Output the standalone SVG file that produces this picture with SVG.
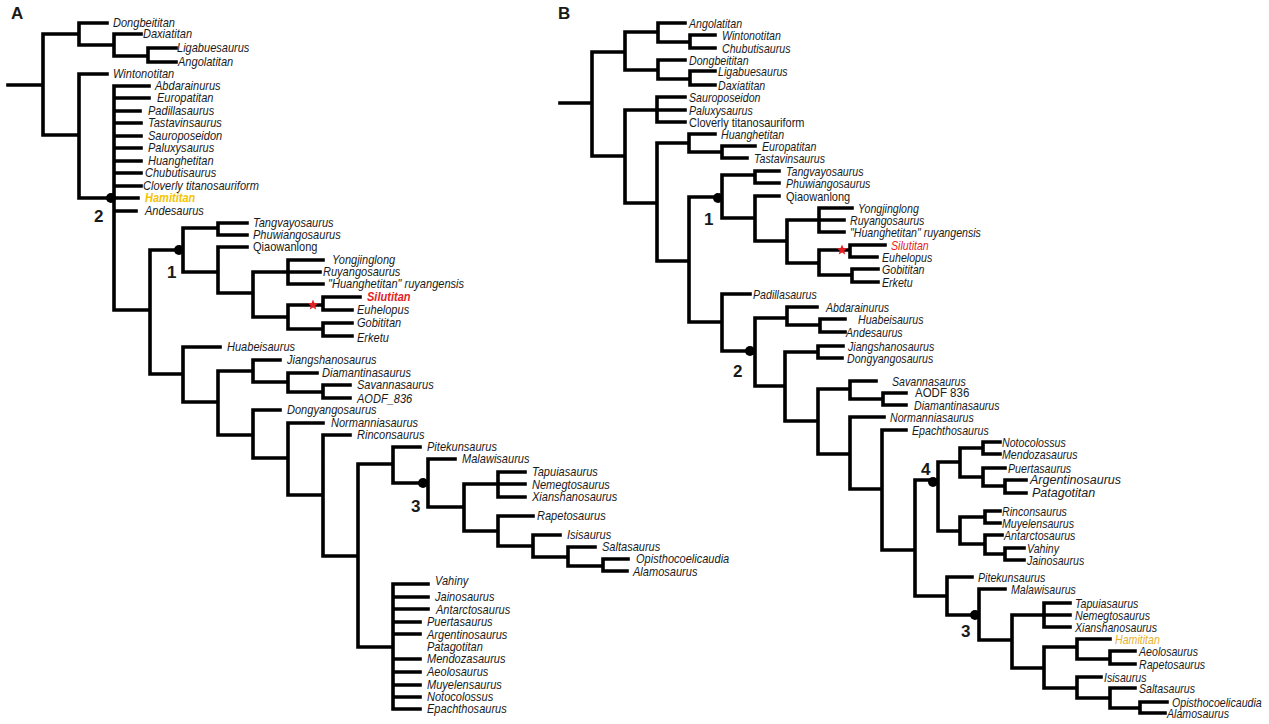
<svg xmlns="http://www.w3.org/2000/svg" xmlns:xlink="http://www.w3.org/1999/xlink" width="1269" height="724" viewBox="0 0 1269 724">
<style>
.e{fill:none;stroke:#000;stroke-width:3.6;stroke-linecap:square;stroke-linejoin:miter}
.t{font-family:"Liberation Sans",Arial,sans-serif;font-size:13px;font-style:italic;fill:#1a1a1a;dominant-baseline:central}
.b{font-size:12.5px}
.u{font-style:normal}
.n{font-family:"Liberation Sans",Arial,sans-serif;font-weight:bold;font-size:17px;fill:#1a1a1a}
.red{fill:#e31e24}
.yA{fill:#f5c400;font-weight:bold}
.yB{fill:#e8b030}
.dot{fill:#000}
</style>
<defs>
<polygon id="star" points="0,-5.5 1.4,-2 5.2,-1.7 2.3,0.75 3.2,4.4 0,2.4 -3.2,4.4 -2.3,0.75 -5.2,-1.7 -1.4,-2"/>
</defs>
<rect width="1269" height="724" fill="#fff"/>
<text class="n" x="11" y="19">A</text>
<text class="n" x="558" y="19">B</text>

<g id="connectors-A">
<path class="e" d="M8 85H43M43 34V135M43 34H79M43 135H79M79 23V45M79 23H107M79 45H114M114 34V56M114 34H141M114 56H148M148 48V62M148 48H176M148 62H176
M79 74V198M79 74H107M79 198H114M114 86V310
M114 86H149M114 98H149M114 111H140M114 123H141M114 136H141M114 148H141M114 161H141M114 173H141M114 186H141M114 198H138M114 211H136
M114 310H150M150 250V374M150 250H183M150 374H183
M183 228V272M183 228H218M183 272H218
M218 223V235M218 223H247M218 235H247
M218 247V293M218 247H247M218 293H253
M253 272V317M253 272H288M253 317H288
M288 260V284M288 260H323M288 272H320M288 284H323
M288 305V329M288 305H323M288 329H323
M323 297V310M323 297H360M323 310H352
M323 323V336M323 323H352M323 336H352
M183 347V402M183 347H220M183 402H218
M218 371V435M218 371H253M218 435H253
M253 360V382M253 360H280M253 382H288
M288 373V392M288 373H317M288 392H323
M323 385V398M323 385H350M323 398H350
M253 410V458M253 410H280M253 458H288
M288 423V495M288 423H323M288 495H323
M323 435V556M323 435H350M323 556H358
M358 464V647M358 464H393M358 647H393
M393 447V483M393 447H420M393 483H428
M428 459V507M428 459H455M428 507H464
M464 484V531M464 484H498M464 531H498
M498 472V497M498 472H525M498 484H525M498 497H525
M498 516V546M498 516H533M498 546H533
M533 535V557M533 535H560M533 557H568
M568 547V566M568 547H595M568 566H603
M603 559V571M603 559H628M603 571H627
M393 584V709M393 584H428M393 597H428M393 609H428M393 622H420M393 634H420M393 659H420M393 672H420M393 685H420M393 697H420M393 709H420"/>
<circle class="dot" cx="111" cy="198" r="5"/>
<circle class="dot" cx="179" cy="250" r="5"/>
<circle class="dot" cx="423" cy="483" r="5"/>
<use xlink:href="#star" x="313" y="305" class="red"/>
</g>
<text class="n" x="94" y="222">2</text>
<text class="n" x="167" y="278">1</text>
<text class="n" x="411" y="512">3</text>

<g id="nodes-A">
<g id="A-Dongbeititan"><text class="t" transform="matrix(.85 0 0 1 113 23)">Dongbeititan</text></g>
<g id="A-Daxiatitan"><text class="t" transform="matrix(.85 0 0 1 143 34)">Daxiatitan</text></g>
<g id="A-Ligabuesaurus"><text class="t" transform="matrix(.85 0 0 1 177 48)">Ligabuesaurus</text></g>
<g id="A-Angolatitan"><text class="t" transform="matrix(.85 0 0 1 178 62)">Angolatitan</text></g>
<g id="A-Wintonotitan"><text class="t" transform="matrix(.85 0 0 1 113 74)">Wintonotitan</text></g>
<g id="A-Abdarainurus"><text class="t" transform="matrix(.85 0 0 1 155 86)">Abdarainurus</text></g>
<g id="A-Europatitan"><text class="t" transform="matrix(.85 0 0 1 157 98)">Europatitan</text></g>
<g id="A-Padillasaurus"><text class="t" transform="matrix(.85 0 0 1 148 111)">Padillasaurus</text></g>
<g id="A-Tastavinsaurus"><text class="t" transform="matrix(.85 0 0 1 148 123)">Tastavinsaurus</text></g>
<g id="A-Sauroposeidon"><text class="t" transform="matrix(.85 0 0 1 148 136)">Sauroposeidon</text></g>
<g id="A-Paluxysaurus"><text class="t" transform="matrix(.85 0 0 1 148 148)">Paluxysaurus</text></g>
<g id="A-Huanghetitan"><text class="t" transform="matrix(.85 0 0 1 148 161)">Huanghetitan</text></g>
<g id="A-Chubutisaurus"><text class="t" transform="matrix(.85 0 0 1 145 173)">Chubutisaurus</text></g>
<g id="A-Cloverly"><text class="t" transform="matrix(.85 0 0 1 143 186)">Cloverly titanosauriform</text></g>
<g id="A-Hamititan"><text class="t yA" transform="matrix(.85 0 0 1 145 198)">Hamititan</text></g>
<g id="A-Andesaurus"><text class="t" transform="matrix(.85 0 0 1 145 211)">Andesaurus</text></g>
<g id="A-Tangvayosaurus"><text class="t" transform="matrix(.85 0 0 1 253 223)">Tangvayosaurus</text></g>
<g id="A-Phuwiangosaurus"><text class="t" transform="matrix(.85 0 0 1 253 235)">Phuwiangosaurus</text></g>
<g id="A-Qiaowanlong"><text class="t u" transform="matrix(.85 0 0 1 253 247)">Qiaowanlong</text></g>
<g id="A-Yongjinglong"><text class="t" transform="matrix(.85 0 0 1 332 260)">Yongjinglong</text></g>
<g id="A-Ruyangosaurus"><text class="t" transform="matrix(.85 0 0 1 323 272)">Ruyangosaurus</text></g>
<g id="A-HRuyangensis"><text class="t" transform="matrix(.85 0 0 1 328 284)">"Huanghetitan" ruyangensis</text></g>
<g id="A-Silutitan"><text class="t red" font-weight="bold" transform="matrix(.85 0 0 1 367 297)">Silutitan</text></g>
<g id="A-Euhelopus"><text class="t" transform="matrix(.85 0 0 1 357 310)">Euhelopus</text></g>
<g id="A-Gobititan"><text class="t" transform="matrix(.85 0 0 1 357 323)">Gobititan</text></g>
<g id="A-Erketu"><text class="t" transform="matrix(.85 0 0 1 357 338)">Erketu</text></g>
<g id="A-Huabeisaurus"><text class="t" transform="matrix(.85 0 0 1 227 347)">Huabeisaurus</text></g>
<g id="A-Jiangshanosaurus"><text class="t" transform="matrix(.85 0 0 1 287 360)">Jiangshanosaurus</text></g>
<g id="A-Diamantinasaurus"><text class="t" transform="matrix(.85 0 0 1 322 373)">Diamantinasaurus</text></g>
<g id="A-Savannasaurus"><text class="t" transform="matrix(.85 0 0 1 357 385)">Savannasaurus</text></g>
<g id="A-AODF836"><text class="t" transform="matrix(.85 0 0 1 357 399)">AODF_836</text></g>
<g id="A-Dongyangosaurus"><text class="t" transform="matrix(.85 0 0 1 287 410)">Dongyangosaurus</text></g>
<g id="A-Normanniasaurus"><text class="t" transform="matrix(.85 0 0 1 331 423)">Normanniasaurus</text></g>
<g id="A-Rinconsaurus"><text class="t" transform="matrix(.85 0 0 1 357 435)">Rinconsaurus</text></g>
<g id="A-Pitekunsaurus"><text class="t" transform="matrix(.85 0 0 1 427 447)">Pitekunsaurus</text></g>
<g id="A-Malawisaurus"><text class="t" transform="matrix(.85 0 0 1 462 459)">Malawisaurus</text></g>
<g id="A-Tapuiasaurus"><text class="t" transform="matrix(.85 0 0 1 532 472)">Tapuiasaurus</text></g>
<g id="A-Nemegtosaurus"><text class="t" transform="matrix(.85 0 0 1 532 485)">Nemegtosaurus</text></g>
<g id="A-Xianshanosaurus"><text class="t" transform="matrix(.85 0 0 1 532 497)">Xianshanosaurus</text></g>
<g id="A-Rapetosaurus"><text class="t" transform="matrix(.85 0 0 1 537 516)">Rapetosaurus</text></g>
<g id="A-Isisaurus"><text class="t" transform="matrix(.85 0 0 1 567 535)">Isisaurus</text></g>
<g id="A-Saltasaurus"><text class="t" transform="matrix(.85 0 0 1 602 547)">Saltasaurus</text></g>
<g id="A-Opisthocoelicaudia"><text class="t" transform="matrix(.85 0 0 1 636 559)">Opisthocoelicaudia</text></g>
<g id="A-Alamosaurus"><text class="t" transform="matrix(.85 0 0 1 633 572)">Alamosaurus</text></g>
<g id="A-Vahiny"><text class="t" transform="matrix(.85 0 0 1 435 581)">Vahiny</text></g>
<g id="A-Jainosaurus"><text class="t" transform="matrix(.85 0 0 1 435 597)">Jainosaurus</text></g>
<g id="A-Antarctosaurus"><text class="t" transform="matrix(.85 0 0 1 436 610)">Antarctosaurus</text></g>
<g id="A-Puertasaurus"><text class="t" transform="matrix(.85 0 0 1 427 622)">Puertasaurus</text></g>
<g id="A-Argentinosaurus"><text class="t" transform="matrix(.85 0 0 1 427 635)">Argentinosaurus</text></g>
<g id="A-Patagotitan"><text class="t" transform="matrix(.85 0 0 1 427 647)">Patagotitan</text></g>
<g id="A-Mendozasaurus"><text class="t" transform="matrix(.85 0 0 1 427 659)">Mendozasaurus</text></g>
<g id="A-Aeolosaurus"><text class="t" transform="matrix(.85 0 0 1 427 672)">Aeolosaurus</text></g>
<g id="A-Muyelensaurus"><text class="t" transform="matrix(.85 0 0 1 427 685)">Muyelensaurus</text></g>
<g id="A-Notocolossus"><text class="t" transform="matrix(.85 0 0 1 427 697)">Notocolossus</text></g>
<g id="A-Epachthosaurus"><text class="t" transform="matrix(.85 0 0 1 427 709)">Epachthosaurus</text></g>
</g>

<g id="connectors-B">
<path class="e" d="M560 103H592M592 52V156M592 52H625M592 156H625
M625 32V70M625 32H658M625 70H658
M658 23V42M658 23H685M658 42H690M690 35V48M690 35H715M690 48H715
M658 60V79M658 60H685M658 79H690M690 71V85M690 71H715M690 85H715
M625 110V203M625 110H657M625 203H657
M657 97V122M657 97H685M657 110H685M657 122H685
M657 143V261M657 143H689M657 261H689
M689 134V152M689 134H715M689 152H722M722 146V158M722 146H755M722 158H747
M689 197V322M689 197H722M689 322H722
M722 175V218M722 175H755M722 218H755
M755 171V183M755 171H779M755 183H779
M755 196V241M755 196H779M755 241H787
M787 220V263M787 220H819M787 263H819
M819 208V232M819 208H852M819 220H844M819 232H844
M819 250V275M819 250H850M819 275H852
M850 245V257M850 245H885M850 257H877
M852 269V282M852 269H878M852 282H878
M722 294V351M722 294H750M722 351H755
M755 318V386M755 318H787M755 386H785
M787 307V325M787 307H817M787 325H820
M820 319V332M820 319H845M820 332H845
M785 352V421M785 352H818M785 421H818
M818 346V358M818 346H843M818 358H842
M818 389V454M818 389H850M818 454H850
M850 381V399M850 381H876M850 399H883
M883 393V405M883 393H906M883 405H906
M850 417V489M850 417H884M850 489H882
M882 430V550M882 430H906M882 550H915
M915 480V596M915 480H938M915 596H947
M938 462V531M938 462H960M938 531H960
M960 448V477M960 448H983M960 477H983
M983 442V454M983 442H1000M983 454H1000
M983 468V486M983 468H1005M983 486H1005
M1005 480V493M1005 480H1026M1005 493H1026
M960 517V544M960 517H985M960 544H985
M985 511V523M985 511H1000M985 523H1000
M985 535V554M985 535H1002M985 554H1005
M1005 548V560M1005 548H1024M1005 560H1024
M947 577V615M947 577H972M947 615H979
M979 589V640M979 589H1005M979 640H1012
M1012 615V668M1012 615H1044M1012 668H1044
M1044 603V627M1044 603H1070M1044 615H1070M1044 627H1070
M1044 647V688M1044 647H1077M1044 688H1077
M1077 639V659M1077 639H1110M1077 659H1110
M1110 651V664M1110 651H1135M1110 664H1135
M1077 677V698M1077 677H1101M1077 698H1110
M1110 688V708M1110 688H1135M1110 708H1140
M1140 702V713M1140 702H1167M1140 713H1165"/>
<circle class="dot" cx="718" cy="198" r="5"/>
<circle class="dot" cx="750" cy="351" r="5"/>
<circle class="dot" cx="933" cy="482" r="5"/>
<circle class="dot" cx="975" cy="615" r="5"/>
<use xlink:href="#star" x="842" y="250" class="red"/>
</g>
<text class="n" x="704" y="225">1</text>
<text class="n" x="733" y="377">2</text>
<text class="n" x="921" y="475">4</text>
<text class="n" x="961" y="637">3</text>

<g id="nodes-B">
<g id="B-Angolatitan"><text class="t b" transform="matrix(.85 0 0 1 689 23)">Angolatitan</text></g>
<g id="B-Wintonotitan"><text class="t b" transform="matrix(.85 0 0 1 722 35)">Wintonotitan</text></g>
<g id="B-Chubutisaurus"><text class="t b" transform="matrix(.85 0 0 1 722 48)">Chubutisaurus</text></g>
<g id="B-Dongbeititan"><text class="t b" transform="matrix(.85 0 0 1 689 60)">Dongbeititan</text></g>
<g id="B-Ligabuesaurus"><text class="t b" transform="matrix(.85 0 0 1 718 71)">Ligabuesaurus</text></g>
<g id="B-Daxiatitan"><text class="t b" transform="matrix(.85 0 0 1 718 85)">Daxiatitan</text></g>
<g id="B-Sauroposeidon"><text class="t b" transform="matrix(.85 0 0 1 689 97)">Sauroposeidon</text></g>
<g id="B-Paluxysaurus"><text class="t b" transform="matrix(.85 0 0 1 689 110)">Paluxysaurus</text></g>
<g id="B-Cloverly"><text class="t b u" transform="matrix(.88 0 0 1 689 122)">Cloverly titanosauriform</text></g>
<g id="B-Huanghetitan"><text class="t b" transform="matrix(.85 0 0 1 721 134)">Huanghetitan</text></g>
<g id="B-Europatitan"><text class="t b" transform="matrix(.85 0 0 1 762 146)">Europatitan</text></g>
<g id="B-Tastavinsaurus"><text class="t b" transform="matrix(.85 0 0 1 754 158)">Tastavinsaurus</text></g>
<g id="B-Tangvayosaurus"><text class="t b" transform="matrix(.85 0 0 1 786 171)">Tangvayosaurus</text></g>
<g id="B-Phuwiangosaurus"><text class="t b" transform="matrix(.85 0 0 1 786 183)">Phuwiangosaurus</text></g>
<g id="B-Qiaowanlong"><text class="t b u" transform="matrix(.88 0 0 1 786 196)">Qiaowanlong</text></g>
<g id="B-Yongjinglong"><text class="t b" transform="matrix(.85 0 0 1 858 208)">Yongjinglong</text></g>
<g id="B-Ruyangosaurus"><text class="t b" transform="matrix(.85 0 0 1 850 220)">Ruyangosaurus</text></g>
<g id="B-HRuyangensis"><text class="t b" transform="matrix(.85 0 0 1 850 232)">"Huanghetitan" ruyangensis</text></g>
<g id="B-Silutitan"><text class="t b red" transform="matrix(.85 0 0 1 891 245)">Silutitan</text></g>
<g id="B-Euhelopus"><text class="t b" transform="matrix(.85 0 0 1 882 257)">Euhelopus</text></g>
<g id="B-Gobititan"><text class="t b" transform="matrix(.85 0 0 1 882 269)">Gobititan</text></g>
<g id="B-Erketu"><text class="t b" transform="matrix(.85 0 0 1 882 282)">Erketu</text></g>
<g id="B-Padillasaurus"><text class="t b" transform="matrix(.85 0 0 1 753 294)">Padillasaurus</text></g>
<g id="B-Abdarainurus"><text class="t b" transform="matrix(.85 0 0 1 826 307)">Abdarainurus</text></g>
<g id="B-Huabeisaurus"><text class="t b" transform="matrix(.85 0 0 1 858 319)">Huabeisaurus</text></g>
<g id="B-Andesaurus"><text class="t b" transform="matrix(.85 0 0 1 846 332)">Andesaurus</text></g>
<g id="B-Jiangshanosaurus"><text class="t b" transform="matrix(.85 0 0 1 848 346)">Jiangshanosaurus</text></g>
<g id="B-Dongyangosaurus"><text class="t b" transform="matrix(.85 0 0 1 847 358)">Dongyangosaurus</text></g>
<g id="B-Savannasaurus"><text class="t b" transform="matrix(.85 0 0 1 892 381)">Savannasaurus</text></g>
<g id="B-AODF836"><text class="t b u" transform="matrix(.92 0 0 1 915 393)">AODF 836</text></g>
<g id="B-Diamantinasaurus"><text class="t b" transform="matrix(.85 0 0 1 914 405)">Diamantinasaurus</text></g>
<g id="B-Normanniasaurus"><text class="t b" transform="matrix(.85 0 0 1 890 417)">Normanniasaurus</text></g>
<g id="B-Epachthosaurus"><text class="t b" transform="matrix(.85 0 0 1 912 430)">Epachthosaurus</text></g>
<g id="B-Notocolossus"><text class="t b" transform="matrix(.85 0 0 1 1002 442)">Notocolossus</text></g>
<g id="B-Mendozasaurus"><text class="t b" transform="matrix(.85 0 0 1 1002 454)">Mendozasaurus</text></g>
<g id="B-Puertasaurus"><text class="t b" transform="matrix(.85 0 0 1 1008 468)">Puertasaurus</text></g>
<g id="B-Argentinosaurus"><text class="t b" transform="matrix(1 0 0 1 1030 480)">Argentinosaurus</text></g>
<g id="B-Patagotitan"><text class="t b" transform="matrix(1 0 0 1 1032 493)">Patagotitan</text></g>
<g id="B-Rinconsaurus"><text class="t b" transform="matrix(.85 0 0 1 1002 511)">Rinconsaurus</text></g>
<g id="B-Muyelensaurus"><text class="t b" transform="matrix(.85 0 0 1 1002 523)">Muyelensaurus</text></g>
<g id="B-Antarctosaurus"><text class="t b" transform="matrix(.85 0 0 1 1004 535)">Antarctosaurus</text></g>
<g id="B-Vahiny"><text class="t b" transform="matrix(.85 0 0 1 1027 548)">Vahiny</text></g>
<g id="B-Jainosaurus"><text class="t b" transform="matrix(.85 0 0 1 1027 560)">Jainosaurus</text></g>
<g id="B-Pitekunsaurus"><text class="t b" transform="matrix(.85 0 0 1 978 577)">Pitekunsaurus</text></g>
<g id="B-Malawisaurus"><text class="t b" transform="matrix(.85 0 0 1 1011 589)">Malawisaurus</text></g>
<g id="B-Tapuiasaurus"><text class="t b" transform="matrix(.85 0 0 1 1075 603)">Tapuiasaurus</text></g>
<g id="B-Nemegtosaurus"><text class="t b" transform="matrix(.85 0 0 1 1075 615)">Nemegtosaurus</text></g>
<g id="B-Xianshanosaurus"><text class="t b" transform="matrix(.85 0 0 1 1075 627)">Xianshanosaurus</text></g>
<g id="B-Hamititan"><text class="t b yB" transform="matrix(.85 0 0 1 1115 639)">Hamititan</text></g>
<g id="B-Aeolosaurus"><text class="t b" transform="matrix(.85 0 0 1 1139 651)">Aeolosaurus</text></g>
<g id="B-Rapetosaurus"><text class="t b" transform="matrix(.85 0 0 1 1139 664)">Rapetosaurus</text></g>
<g id="B-Isisaurus"><text class="t b" transform="matrix(.85 0 0 1 1104 677)">Isisaurus</text></g>
<g id="B-Saltasaurus"><text class="t b" transform="matrix(.85 0 0 1 1139 688)">Saltasaurus</text></g>
<g id="B-Opisthocoelicaudia"><text class="t b" transform="matrix(.85 0 0 1 1172 702)">Opisthocoelicaudia</text></g>
<g id="B-Alamosaurus"><text class="t b" transform="matrix(.85 0 0 1 1167 713)">Alamosaurus</text></g>
</g>
</svg>
